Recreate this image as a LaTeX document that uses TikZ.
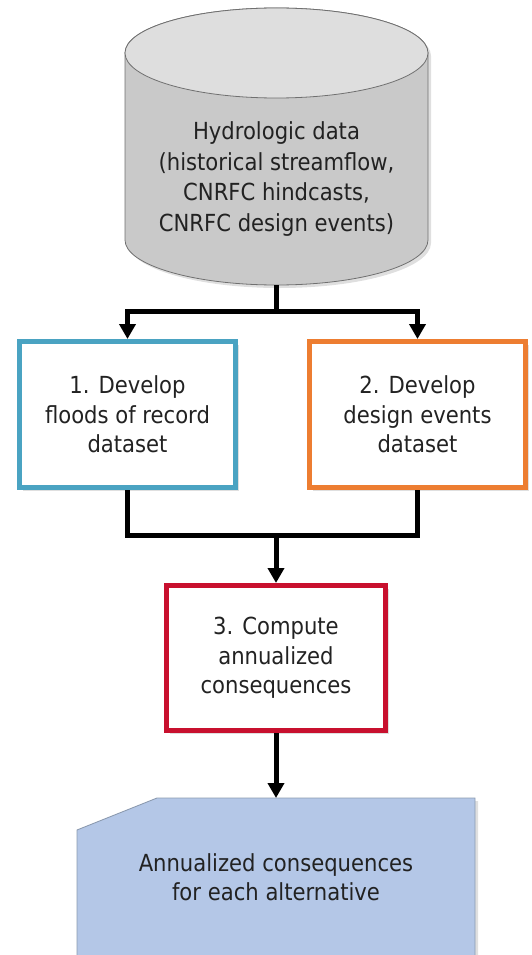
\documentclass[tikz,border=0pt]{standalone}
\usepackage{fontspec}
\setmainfont{DejaVu Sans Condensed}
\usetikzlibrary{arrows.meta,shadows}
\definecolor{cylbody}{HTML}{C9C9C9}
\definecolor{cyltop}{HTML}{DEDEDE}
\definecolor{cyledge}{HTML}{707070}
\definecolor{bluebox}{HTML}{4AA3C2}
\definecolor{orangebox}{HTML}{ED7D31}
\definecolor{redbox}{HTML}{C8102E}
\definecolor{docfill}{HTML}{B4C7E7}
\definecolor{docedge}{HTML}{8C9BB0}
\definecolor{txt}{HTML}{222222}
\begin{document}
\begin{tikzpicture}[x=1pt,y=1pt,
  lbl/.style={font=\fontsize{23.5}{29.5}\selectfont, text=txt, align=center},
  stepbox/.style={lbl, draw=#1, line width=5pt, fill=white, minimum width=216pt, minimum height=146pt, inner sep=0pt,
     drop shadow={opacity=0.25, shadow xshift=3pt, shadow yshift=-3pt}},
  conn/.style={line width=5pt, draw=black, line join=miter},
  arr/.style={conn, -{Triangle[width=16pt,length=15pt]}}
]
\useasboundingbox (0,0) rectangle (531,-955);
% cylinder
\path[draw=cyledge, line width=0.8pt, fill=cylbody,
      drop shadow={opacity=0.25, shadow xshift=3pt, shadow yshift=-3pt}]
  (125,-53) -- (125,-240) arc[start angle=180,end angle=360,x radius=151.5,y radius=45]
  -- (428,-53) arc[start angle=0,end angle=180,x radius=151.5,y radius=45] -- cycle;
\path[draw=cyledge, line width=0.8pt, fill=cyltop] (276.5,-53) ellipse[x radius=151.5, y radius=45];
\node[lbl, font=\fontsize{23.5}{30.5}\selectfont] (hyd) at (276.5,-179) {Hydrologic data\\(historical streamflow,\\CNRFC hindcasts,\\CNRFC design events)};
\coordinate (cylbot) at (276.5,-285);
% boxes
\node[stepbox=bluebox] (b1) at (127.5,-414.5) {1. Develop\\floods of record\\dataset};
\node[stepbox=orangebox] (b2) at (417.5,-414.5) {2. Develop\\design events\\dataset};
\node[stepbox=redbox, minimum width=219pt, minimum height=145pt] (b3) at (276,-658) {3. Compute\\annualized\\consequences};
% output document
\path[fill=docfill, drop shadow={opacity=0.25, shadow xshift=3pt, shadow yshift=-3pt}]
  (77,-960) -- (77,-830) -- (157,-798) -- (475,-798) -- (475,-960) -- cycle;
\draw[docedge, line width=0.9pt] (77,-960) -- (77,-830) -- (157,-798) -- (475,-798) -- (475,-960);
\coordinate (outtop) at (276,-798);
\node[lbl] (out) at (276,-877) {Annualized consequences\\for each alternative};
% connectors
\coordinate (split) at (276.5,-311);
\coordinate (merge) at (276,-535);
\draw[conn] (cylbot) -- (split);
\draw[arr] (split) -| (b1.north);
\draw[arr] (split) -| (b2.north);
\draw[conn] (b1.south) |- (merge) -| (b2.south);
\draw[arr] (merge) -- (b3.north);
\draw[arr] (b3.south) -- (outtop);
\end{tikzpicture}
\end{document}
